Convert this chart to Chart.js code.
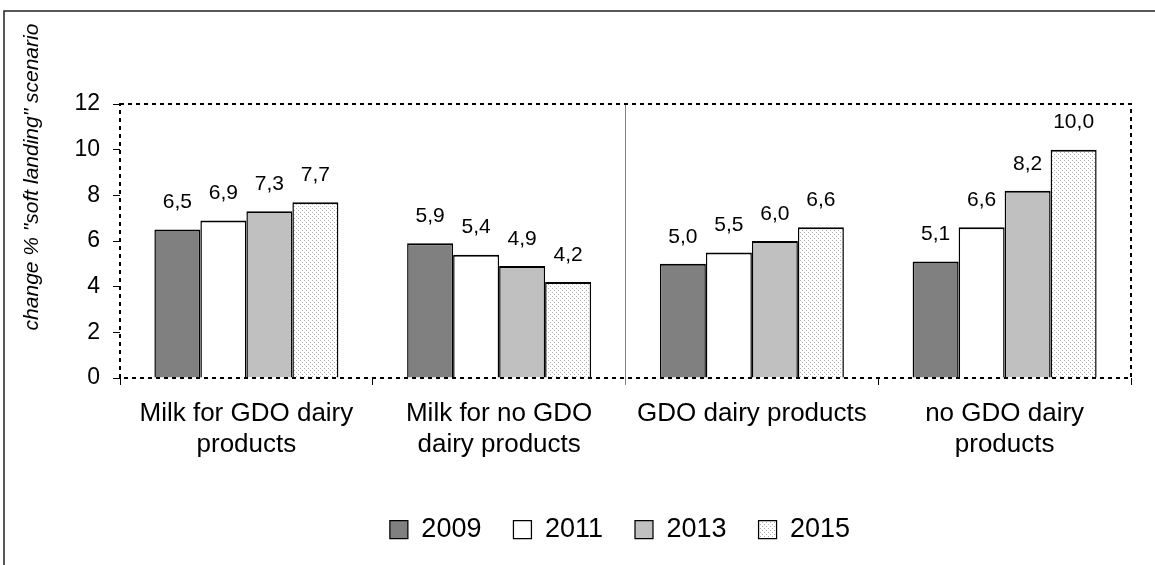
<!DOCTYPE html>
<html>
<head>
<meta charset="utf-8">
<script src="https://cdn.jsdelivr.net/npm/chart.js@4/dist/chart.umd.min.js"></script>
<style>
  body { margin: 0; background: #fff; }
  canvas { display: block; }
</style>
</head>
<body>
<canvas id="chart" width="1155" height="565"></canvas>
<script>
const categories = [
    ["Milk for GDO dairy", "products"],
    ["Milk for no GDO", "dairy products"],
    ["GDO dairy products"],
    ["no GDO dairy", "products"],
];
const years = ["2009", "2011", "2013", "2015"];
const values2009 = [6.5, 5.9, 5.0, 5.1];
const values2011 = [6.9, 5.4, 5.5, 6.6];
const values2013 = [7.3, 4.9, 6.0, 8.2];
const values2015 = [7.7, 4.2, 6.6, 10.0];
const yTitle = 'change % "soft landing" scenario';

const fontFamily = "'Liberation Sans', Arial, sans-serif";

// dotted fill for 2015
function dotPattern() {
    const c = document.createElement("canvas");
    c.width = 4;
    c.height = 4;
    const g = c.getContext("2d");
    g.fillStyle = "#ffffff";
    g.fillRect(0, 0, 4, 4);
    g.fillStyle = "#b0b0b0";
    g.fillRect(0, 0, 1, 1);
    g.fillRect(2, 2, 1, 1);
    return g.createPattern(c, "repeat");
}

const barBorder = { top: 2, left: 1.5, right: 1.5, bottom: 0 };

function makeSet(label, data, fill) {
    return {
        label: label,
        data: data,
        backgroundColor: fill,
        borderColor: "#000000",
        borderWidth: barBorder,
        borderSkipped: false,
        categoryPercentage: 0.728,
        barPercentage: 1.0,
    };
}

// frame, dashed plot border, y title and value labels
const decorations = {
    id: "decorations",
    afterLayout(chart) {
        // legend is centred under the plot area, not the whole canvas
        chart.legend.left += 54.5;
        chart.legend.right += 54.5;
    },
    beforeDraw(chart) {
        const ctx = chart.ctx;
        ctx.save();
        ctx.fillStyle = "#ffffff";
        ctx.fillRect(0, 0, chart.width, chart.height);
        ctx.restore();
    },
    afterDatasetsDraw(chart) {
        const ctx = chart.ctx;
        const area = chart.chartArea;

        ctx.save();
        ctx.strokeStyle = "#000000";
        ctx.lineWidth = 2;
        ctx.setLineDash([4, 4]);
        ctx.strokeRect(area.left, area.top, area.right - area.left, area.bottom - area.top);
        ctx.restore();

        ctx.save();
        ctx.font = "21px " + fontFamily;
        ctx.fillStyle = "#000000";
        ctx.textAlign = "center";
        ctx.textBaseline = "middle";
        chart.data.datasets.forEach((ds, i) => {
            const meta = chart.getDatasetMeta(i);
            meta.data.forEach((bar, j) => {
                const txt = ds.data[j].toFixed(1).replace(".", ",");
                ctx.fillText(txt, bar.x, bar.y - 27);
            });
        });
        ctx.restore();
    },
    afterDraw(chart) {
        const ctx = chart.ctx;
        ctx.save();
        ctx.strokeStyle = "#222222";
        ctx.lineWidth = 1.5;
        ctx.beginPath();
        ctx.moveTo(4, chart.height);
        ctx.lineTo(4, 11);
        ctx.lineTo(chart.width, 11);
        ctx.stroke();
        ctx.restore();

        ctx.save();
        ctx.translate(32, 177);
        ctx.rotate(-Math.PI / 2);
        ctx.font = "italic 21px " + fontFamily;
        ctx.fillStyle = "#000000";
        ctx.textAlign = "center";
        ctx.textBaseline = "middle";
        ctx.fillText(yTitle, 0, 0);
        ctx.restore();
    },
};

document.addEventListener("DOMContentLoaded", function () {
    const canvas = document.getElementById("chart");
    const pattern = dotPattern();

    const data = {
        labels: categories,
        datasets: [
            makeSet(years[0], values2009, "#808080"),
            makeSet(years[1], values2011, "#ffffff"),
            makeSet(years[2], values2013, "#c0c0c0"),
            makeSet(years[3], values2015, pattern),
        ],
    };

    const config = {
        type: "bar",
        data: data,
        options: {
            responsive: false,
            animation: false,
            devicePixelRatio: 1,
            layout: {
                padding: { left: 0, right: 24, top: 104, bottom: 12 },
            },
            plugins: {
                legend: {
                    position: "bottom",
                    labels: {
                        boxWidth: 18,
                        boxHeight: 18,
                        padding: 32,
                        color: "#000000",
                        font: { family: fontFamily, size: 27 },
                    },
                },
                tooltip: { enabled: false },
            },
            scales: {
                x: {
                    afterFit(scale) {
                        scale.height = 106;
                    },
                    border: { display: false },
                    grid: {
                        offset: true,
                        drawOnChartArea: true,
                        tickLength: 7,
                        lineWidth: 1,
                        color: (ctx) => (ctx.index === 2 ? "#808080" : "rgba(0,0,0,0)"),
                        tickColor: (ctx) => (ctx.index === 2 ? "#808080" : "#000000"),
                    },
                    ticks: {
                        color: "#000000",
                        padding: 13,
                        maxRotation: 0,
                        autoSkip: false,
                        font: { family: fontFamily, size: 26 },
                    },
                },
                y: {
                    min: 0,
                    max: 12,
                    afterFit(scale) {
                        scale.width = 120;
                    },
                    border: { display: false },
                    grid: {
                        drawOnChartArea: false,
                        tickLength: 7,
                        color: "#000000",
                    },
                    ticks: {
                        stepSize: 2,
                        color: "#000000",
                        padding: 13,
                        font: { family: fontFamily, size: 23 },
                    },
                },
            },
        },
        plugins: [decorations],
    };

    new Chart(canvas, config);
});
</script>
</body>
</html>
